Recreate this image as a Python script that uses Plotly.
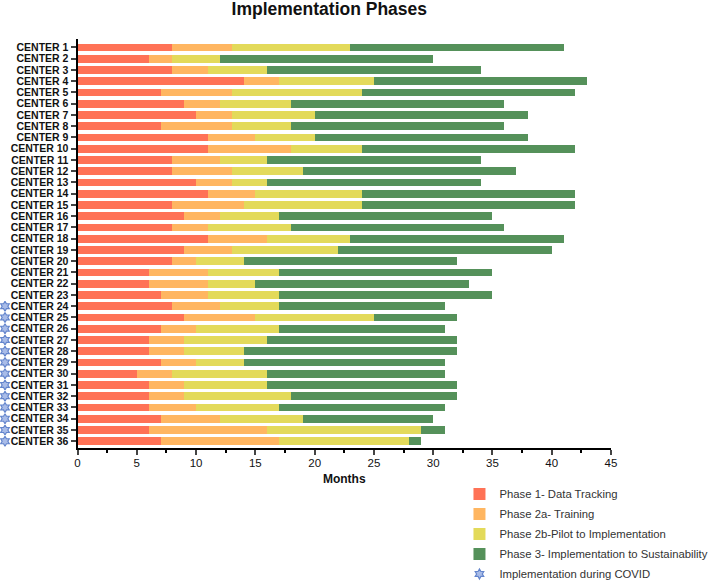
import plotly.graph_objects as go

centers = [f"CENTER {i}" for i in range(1, 37)]
phase1 = [8,6,8,14,7,9,10,7,11,11,8,8,10,11,8,9,8,11,9,8,6,6,7,8,9,7,6,6,7,5,6,6,6,7,6,7]
phase2a = [5,2,3,3,6,3,3,6,4,7,4,5,3,4,6,3,3,5,4,2,5,5,4,4,6,3,3,3,3,3,3,3,4,5,10,10]
phase2b = [10,4,5,8,11,6,7,5,5,6,4,6,3,9,10,5,7,7,9,4,6,4,6,5,10,7,7,5,4,8,7,9,7,7,13,11]
phase3 = [18,18,18,18,18,18,18,18,18,18,18,18,18,18,18,18,18,18,18,18,18,18,18,14,7,14,16,18,17,15,16,14,14,11,2,1]
covid_centers = centers[23:]
series = [
    ("Phase 1- Data Tracking", phase1, "#FF7256"),
    ("Phase 2a- Training", phase2a, "#FFB661"),
    ("Phase 2b-Pilot to Implementation", phase2b, "#E3DA5A"),
    ("Phase 3- Implementation to Sustainability", phase3, "#55915A"),
]
FONT = "Liberation Sans, Arial, sans-serif"
PLOT_W = 709 - 98.3

fig = go.Figure()
for name, vals, color in series:
    fig.add_trace(go.Bar(y=centers, x=vals, name=name, orientation="h", legendgroup=name,
                         marker=dict(color=color, line=dict(width=0))))
fig.add_trace(go.Scatter(
    y=covid_centers, x=[0] * len(covid_centers), mode="markers", cliponaxis=False, xaxis="x2",
    name="Implementation during COVID", legendgroup="covid",
    marker=dict(symbol="hexagram", size=7.5, color="#A9BCE8", line=dict(color="#6485CC", width=1.2)),
))
fig.update_layout(
    width=709, height=582, barmode="stack", bargap=0.32, template=None,
    paper_bgcolor="white", plot_bgcolor="white",
    margin=dict(l=0, r=98.3, t=39, b=134, autoexpand=False),
    font=dict(family=FONT, color="#111"),
    title=dict(text="<b>Implementation Phases</b>", x=0.4645, xanchor="center", y=0.995, yanchor="top",
               font=dict(size=17.5, color="#111")),
    xaxis=dict(domain=[77.5 / PLOT_W, 1], range=[0, 45], tick0=0, dtick=5, ticks="outside", ticklen=5,
               tickwidth=2, showgrid=False, zeroline=False, showline=True, linecolor="black", linewidth=2,
               tickfont=dict(size=11.5, color="#111"), ticklabelstandoff=-2,
               minor=dict(dtick=2.5, ticks="outside", ticklen=3, tickwidth=1.5, tickcolor="black"),
               title=dict(text="<b>Months</b>", font=dict(size=12, color="#111"), standoff=7)),
    xaxis2=dict(domain=[0, 10 / PLOT_W], range=[-1, 1], visible=False, anchor="y"),
    yaxis=dict(type="category", categoryorder="array", categoryarray=centers, range=[35.6, -0.75],
               anchor="x", tickmode="linear", tick0=0, dtick=1,
               ticks="outside", ticklen=5, tickwidth=2, showgrid=False, zeroline=False,
               showline=True, linecolor="black", linewidth=2,
               tickfont=dict(size=10.5, color="#111", weight="bold")),
    legend=dict(x=0.752, y=-0.077, xanchor="left", yanchor="top", traceorder="grouped", tracegroupgap=1,
                font=dict(size=11.3, color="#333"), bgcolor="rgba(0,0,0,0)", itemclick=False),
)
fig.write_html("out.html", post_script="document.body.style.margin='0';",
               config=dict(displayModeBar=False))
